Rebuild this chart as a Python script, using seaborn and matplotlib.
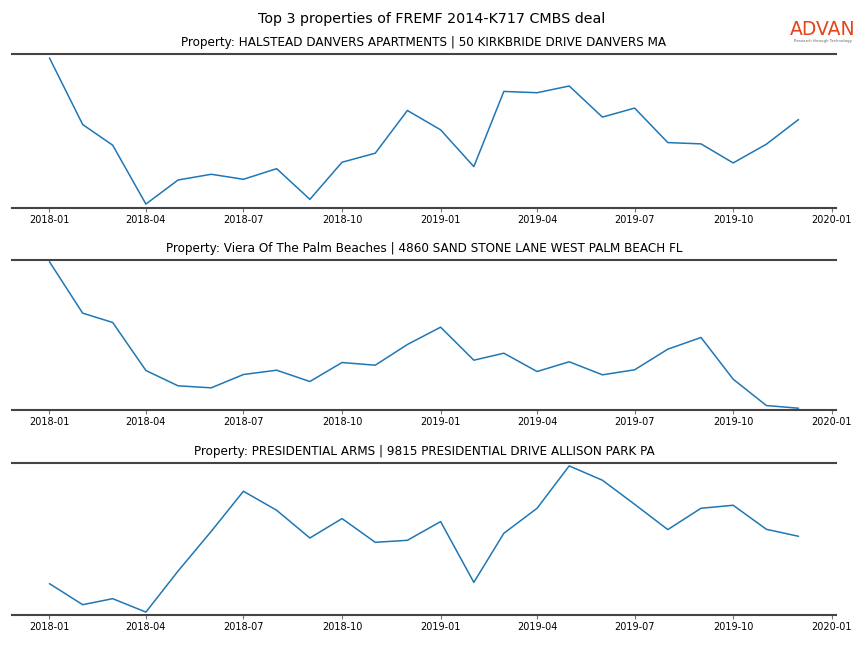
import matplotlib
matplotlib.use("Agg")
import matplotlib.pyplot as plt
import matplotlib.dates as mdates
import seaborn as sns
import pandas as pd

months = pd.date_range("2018-01-01", periods=24, freq="MS")

titles = [
    "Property: HALSTEAD DANVERS APARTMENTS | 50 KIRKBRIDE DRIVE DANVERS MA",
    "Property: Viera Of The Palm Beaches | 4860 SAND STONE LANE WEST PALM BEACH FL",
    "Property: PRESIDENTIAL ARMS | 9815 PRESIDENTIAL DRIVE ALLISON PARK PA",
]

halstead = [149.4, 83.0, 62.4, 3.7, 27.7, 33.4, 28.4, 39.0, 8.4, 45.4, 54.4, 97.0,
            77.7, 41.0, 116.0, 114.7, 121.4, 90.4, 99.4, 65.0, 63.7, 44.7, 63.4, 88.0]
viera = [147.7, 96.3, 87.0, 39.0, 23.7, 21.7, 35.0, 39.3, 28.0, 47.0, 44.3, 65.0,
         82.3, 49.3, 56.3, 38.0, 47.7, 34.7, 39.7, 60.3, 72.0, 30.3, 4.0, 1.3]
presidential = [30.7, 9.7, 15.7, 2.3, 43.3, 83.0, 123.0, 104.0, 76.3, 95.7, 72.0, 74.0,
                92.7, 32.0, 81.0, 106.0, 148.3, 134.0, 110.0, 84.7, 106.0, 109.0, 85.0, 78.0]

series = [halstead, viera, presidential]

sns.set_style("white")
plt.rcParams['font.family'] = ['DejaVu Sans']
plt.rcParams['text.color'] = 'black'
plt.rcParams['xtick.color'] = 'black'
plt.rcParams['axes.titlecolor'] = 'black'

fig = plt.figure(figsize=(8.64, 6.48), dpi=100)
fig.suptitle("Top 3 properties of FREMF 2014-K717 CMBS deal", fontsize=10.3, y=0.982)

boxes = [(0.679, 0.9167), (0.3673, 0.5988), (0.0509, 0.2855)]
left, right = 12 / 864, 836 / 864
ymargins = [0.027, 0.012, 0.02]

for (b, t), title, vals, ym in zip(boxes, titles, series, ymargins):
    ax = fig.add_axes([left, b, right - left, t - b])
    df = pd.DataFrame({"month": months, "value": vals})
    sns.lineplot(data=df, x="month", y="value", ax=ax, color="#1f77b4", linewidth=1.1)
    ax.margins(x=0.05, y=ym)
    ax.set_title(title, fontsize=8.65, pad=6)
    ax.set_xlabel("")
    ax.set_ylabel("")
    ax.set_yticks([])
    ax.xaxis.set_major_locator(mdates.MonthLocator(bymonth=[1, 4, 7, 10]))
    ax.xaxis.set_major_formatter(mdates.DateFormatter("%Y-%m"))
    ax.tick_params(axis="x", labelsize=7, length=3, width=0.8, color="#777777",
                   labelcolor="black", direction="out", bottom=True, pad=2)
    for s in ["left", "right"]:
        ax.spines[s].set_visible(False)
    for s in ["top", "bottom"]:
        ax.spines[s].set_visible(True)
        ax.spines[s].set_color("#444444")
        ax.spines[s].set_linewidth(1.5)

fig.text(0.9525, 0.946, "ADVAN", fontsize=13.5, color="#e2451c", ha="center", va="baseline")
fig.text(0.9525, 0.936, "Research through Technology", fontsize=2.8, color="#666666",
         ha="center", va="center")

fig.savefig("out.png", dpi=100)
